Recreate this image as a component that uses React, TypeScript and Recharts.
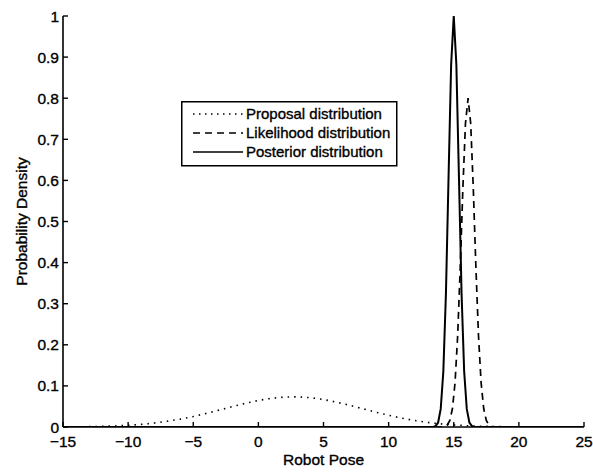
import React from 'react';
import { LineChart, Line, XAxis, YAxis, Legend } from 'recharts';

const xTicks = [-15, -10, -5, 0, 5, 10, 15, 20, 25];
const yTicks = [0, 0.1, 0.2, 0.3, 0.4, 0.5, 0.6, 0.7, 0.8, 0.9, 1];

const seriesNames = ['Proposal distribution', 'Likelihood distribution', 'Posterior distribution'];

const proposalX = [-15, -14, -13, -12, -11, -10, -9, -8, -7, -6, -5, -4, -3, -2, -1, 0, 1, 2, 3, 4, 5, 6, 7, 8, 9, 10, 11, 12, 13, 14, 15, 16, 17, 18, 19, 20, 21, 22, 23, 24, 25];
const proposalY = [0.0003, 0.0005, 0.0009, 0.0016, 0.0026, 0.0042, 0.0064, 0.0096, 0.0138, 0.0191, 0.0256, 0.0331, 0.0412, 0.0496, 0.0576, 0.0646, 0.0698, 0.0729, 0.0734, 0.0713, 0.0669, 0.0605, 0.0529, 0.0446, 0.0363, 0.0285, 0.0216, 0.0158, 0.0111, 0.0076, 0.005, 0.0032, 0.0019, 0.0011, 0.0006, 0.0004, 0.0002, 0.0001, 0.0001, 0, 0];

const likelihoodX = [-15, 13.9, 14.1, 14.3, 14.5, 14.7, 14.9, 15.1, 15.3, 15.5, 15.7, 15.9, 16.1, 16.3, 16.5, 16.7, 16.9, 17.1, 17.3, 17.5, 17.7, 17.9, 18.1, 18.3, 25];
const likelihoodY = [0, 0, 0.0003, 0.0012, 0.0048, 0.016, 0.045, 0.108, 0.222, 0.389, 0.581, 0.739, 0.8, 0.739, 0.581, 0.389, 0.222, 0.108, 0.045, 0.016, 0.0048, 0.0012, 0.0003, 0, 0];

const posteriorX = [-15, 13.0, 13.4, 13.6, 13.8, 14.0, 14.2, 14.4, 14.6, 14.8, 15.0, 15.2, 15.4, 15.6, 15.8, 16.0, 16.2, 16.4, 16.6, 17.0, 25];
const posteriorY = [0, 0, 0.0003, 0.002, 0.011, 0.044, 0.135, 0.325, 0.607, 0.882, 1.0, 0.882, 0.607, 0.325, 0.135, 0.044, 0.011, 0.002, 0.0003, 0, 0];

const toRows = (xs: number[], ys: number[]) => xs.map((x, i) => ({ x, y: ys[i] }));
const proposalData = toRows(proposalX, proposalY);
const likelihoodData = toRows(likelihoodX, likelihoodY);
const posteriorData = toRows(posteriorX, posteriorY);

const FONT = "'Liberation Sans', Arial, Helvetica, sans-serif";
const TICK_FS = 15.5;
const XM = 9;
const YM = 4;
const TICK_LEN = 5;
const TEXT_STROKE = 0.35;

const fmtNum = (v: number) => (v < 0 ? '\u2212' + String(Math.abs(v)) : String(v));

const XTick = (props: any) => {
  const { x, y, payload } = props;
  const axisY = y - XM;
  return (
    <g>
      <line x1={x} y1={axisY} x2={x} y2={axisY - TICK_LEN} stroke="#000" strokeWidth={1.4} />
      <text x={x} y={y} dy="0.71em" textAnchor="middle" fontSize={TICK_FS} fontFamily={FONT} fill="#000" stroke="#000" strokeWidth={TEXT_STROKE}>
        {fmtNum(payload.value)}
      </text>
    </g>
  );
};

const YTick = (props: any) => {
  const { x, y, payload } = props;
  const axisX = x + YM;
  return (
    <g>
      <line x1={axisX} y1={y} x2={axisX + TICK_LEN} y2={y} stroke="#000" strokeWidth={1.4} />
      <text x={x} y={y} dy="0.355em" textAnchor="end" fontSize={TICK_FS} fontFamily={FONT} fill="#000" stroke="#000" strokeWidth={TEXT_STROKE}>
        {String(payload.value)}
      </text>
    </g>
  );
};

const LegendBox = () => {
  const rows = [
    { name: seriesNames[0], dash: '1.5 4.5' },
    { name: seriesNames[1], dash: '7 5' },
    { name: seriesNames[2], dash: undefined as string | undefined },
  ];
  return (
    <svg width={217} height={66} style={{ display: 'block' }}>
      <rect x={0.75} y={0.75} width={215} height={64} fill="#fff" stroke="#000" strokeWidth={1.5} />
      {rows.map((r, i) => (
        <g key={r.name}>
          <line x1={12} x2={62} y1={13 + i * 19} y2={13 + i * 19} stroke="#000" strokeWidth={1.6} strokeDasharray={r.dash} />
          <text x={65} y={13 + i * 19} dy="0.355em" fontSize={15} fontFamily={FONT} fill="#000" stroke="#000" strokeWidth={TEXT_STROKE}>
            {r.name}
          </text>
        </g>
      ))}
    </svg>
  );
};

export default function App() {
  return (
    <div style={{ position: 'absolute', left: 0, top: 0, width: 593, height: 473, background: '#fff' }}>
      <LineChart width={593} height={473} margin={{ top: 16, right: 9, bottom: 0, left: 0 }}>
        <XAxis
          type="number"
          dataKey="x"
          domain={[-15, 25]}
          ticks={xTicks}
          allowDataOverflow
          height={46}
          tickSize={0}
          tickMargin={XM}
          tick={<XTick />}
          axisLine={{ stroke: '#000', strokeWidth: 1.6 }}
          label={{ value: 'Robot Pose', position: 'insideBottom', offset: 8, fontSize: 15.5, fontFamily: FONT, fill: '#000', stroke: '#000', strokeWidth: TEXT_STROKE }}
        />
        <YAxis
          type="number"
          dataKey="y"
          domain={[0, 1]}
          ticks={yTicks}
          allowDataOverflow
          width={63}
          tickSize={0}
          tickMargin={YM}
          tick={<YTick />}
          axisLine={{ stroke: '#000', strokeWidth: 1.6 }}
          label={{ value: 'Probability Density', angle: -90, position: 'insideLeft', offset: 21, fontSize: 15.5, fontFamily: FONT, fill: '#000', stroke: '#000', strokeWidth: TEXT_STROKE, style: { textAnchor: 'middle' } }}
        />
        <Legend
          layout="vertical"
          align="center"
          verticalAlign="middle"
          content={<LegendBox />}
          wrapperStyle={{ left: 181, top: 101, width: 217, height: 66 }}
        />
        <Line data={proposalData} dataKey="y" name={seriesNames[0]} stroke="#000" strokeWidth={1.6} strokeDasharray="1.5 5" dot={false} isAnimationActive={false} type="linear" />
        <Line data={likelihoodData} dataKey="y" name={seriesNames[1]} stroke="#000" strokeWidth={1.7} strokeDasharray="7 5" dot={false} isAnimationActive={false} type="linear" />
        <Line data={posteriorData} dataKey="y" name={seriesNames[2]} stroke="#000" strokeWidth={2} dot={false} isAnimationActive={false} type="linear" />
      </LineChart>
    </div>
  );
}
